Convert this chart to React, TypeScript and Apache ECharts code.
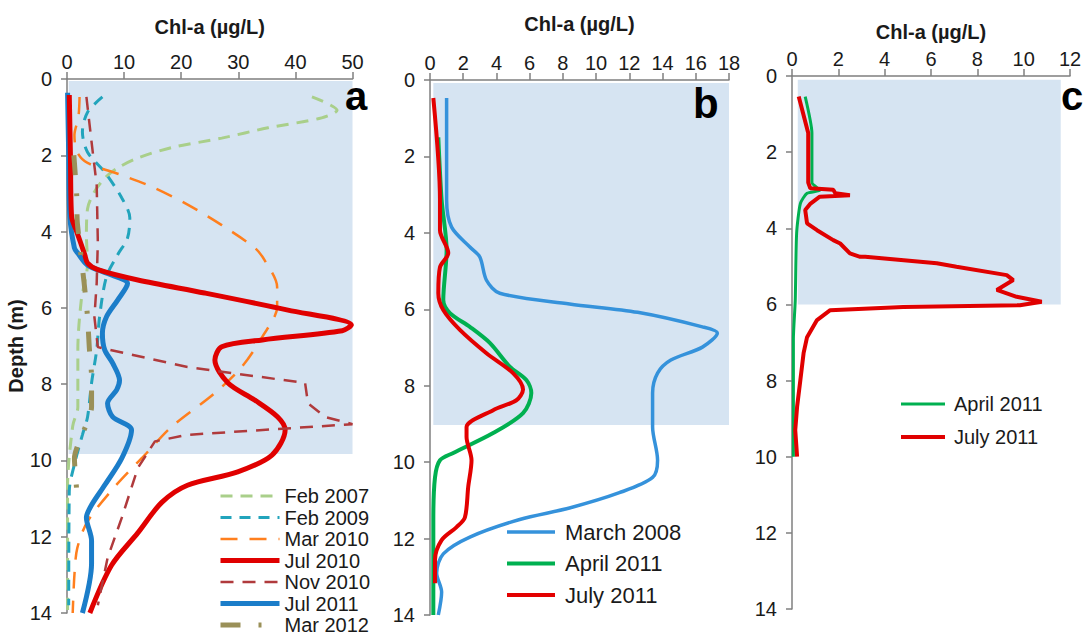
import React, { useEffect, useRef } from "react";
import * as echarts from "echarts";

// ---------- Panel a : [Chl-a (µg/L), depth (m)] ----------
const feb2007 = [[42.9,0.47],[47.3,0.82],[44.6,1.02],[35.2,1.28],[27.1,1.55],[18.3,1.8],[12.4,2.07],[8.9,2.33],[6.6,2.6],[4.8,2.96],[3.6,3.4],[3.4,4.1],[3.6,4.83],[2.5,5.8],[1.9,7.1],[1.9,8.6],[1.0,9.1],[0.1,10.7],[0.1,14]];
const feb2009 = [[6.2,0.47],[3.6,0.87],[2.7,1.39],[3.6,1.92],[6.6,2.44],[9.6,3.12],[11.0,3.64],[10.6,4.17],[8.9,4.6],[6.9,5.19],[5.7,6.24],[5.2,7.1],[4.3,7.97],[3.6,8.86],[2.7,9.33],[1.3,10.1],[0.4,10.8],[0.3,13.8]];
const mar2010 = [[2.2,0.47],[2.0,1.0],[1.3,1.47],[1.8,1.92],[3.6,2.2],[9.6,2.52],[15.4,2.86],[21.2,3.3],[27.1,3.83],[32.9,4.43],[34.6,4.75],[36.8,5.45],[36.8,5.98],[34.2,6.76],[30.6,7.55],[25.9,8.23],[18.3,9.12],[13.6,9.86],[8.3,10.7],[3.6,11.6],[1.8,12.3],[1.3,13],[1.0,14]];
const jul2010 = [[0.4,0.42],[0.6,2.0],[0.8,3.6],[1.7,4.0],[3.1,4.6],[3.6,4.83],[5.4,5.0],[12.4,5.27],[24.1,5.61],[38.7,6.06],[49.8,6.45],[48.2,6.6],[34.2,6.84],[27.1,7.02],[25.9,7.37],[28.2,7.97],[32.9,8.42],[36.9,8.86],[38.2,9.2],[35.9,9.86],[29.9,10.3],[21.1,10.65],[16.6,11.1],[12.4,11.9],[7.8,12.75],[4.0,14]];
const nov2010 = [[3.4,0.47],[4.3,1.65],[5.2,2.78],[5.4,4.27],[5.2,5.35],[4.8,6.24],[5.4,7.03],[21.1,7.55],[41.7,7.97],[42.2,8.5],[45.2,8.86],[50,9.05],[21.1,9.33],[15.4,9.5],[12.4,10.2],[9.6,11.5],[7.1,12.56],[5.4,13.8]];
const jul2011a = [[0.1,0.36],[0.3,2.0],[0.5,3.6],[1.3,4.43],[1.9,4.57],[3.6,4.88],[7.1,5.1],[10.6,5.36],[8.9,5.79],[6.9,6.24],[6.2,6.67],[6.6,7.1],[8.0,7.45],[9.2,7.9],[8.7,8.15],[7.1,8.5],[8.0,8.86],[11.3,9.2],[9.6,9.94],[6.6,10.65],[4.3,11.17],[3.4,11.5],[4.3,12.1],[4.3,12.7],[2.7,14]];
const mar2012 = [[1.2,2.0],[1.3,2.2],[1.7,3.05],[1.8,3.75],[3.0,5.35],[3.6,6.24],[3.9,7.03],[4.3,7.8],[4.3,8.6],[1.3,9.94],[1.7,10.78]];

// ---------- Panel b ----------
const mar2008b = [[1.0,0.47],[1.0,3.14],[1.3,3.85],[2.4,4.37],[3.0,4.63],[3.4,5.24],[4.2,5.58],[8.4,5.86],[12.5,6.08],[16.4,6.46],[17.3,6.62],[16.4,6.99],[14.5,7.33],[13.7,7.67],[13.4,8.19],[13.4,9.08],[13.7,9.95],[13.4,10.4],[11.4,10.8],[8.4,11.2],[5.4,11.5],[2.4,11.96],[0.8,12.4],[0.4,12.9],[0.7,13.4],[0.5,14]];
const apr2011b = [[0.5,1.5],[0.7,3.14],[1.0,4.45],[0.8,5.76],[1.2,6.1],[2.4,6.46],[3.6,6.88],[4.8,7.5],[5.8,7.85],[6.1,8.19],[5.6,8.72],[3.8,9.24],[1.4,9.76],[0.6,9.95],[0.3,10.4],[0.2,11.5],[0.2,14]];
const jul2011b = [[0.2,0.47],[0.6,3.14],[0.6,3.93],[1.1,4.53],[0.6,4.9],[0.5,5.58],[0.8,6.02],[1.8,6.54],[3.4,7.15],[5.0,7.67],[5.6,8.1],[5.2,8.38],[3.8,8.64],[2.2,9.08],[2.2,9.34],[2.5,9.95],[2.3,10.65],[2.1,11.45],[1.6,11.7],[0.7,12.04],[0.3,12.56],[0.3,13.17]];

// ---------- Panel c ----------
const apr2011c = [[0.57,0.54],[0.86,1.5],[0.86,2.8],[1.2,3.0],[0.65,3.08],[0.36,3.35],[0.2,4.13],[0.14,5.9],[0.06,6.9],[0.06,10]];
const jul2011c = [[0.29,0.54],[0.7,1.5],[0.7,2.8],[0.79,2.95],[1.78,2.99],[1.87,3.08],[2.5,3.13],[1.2,3.17],[0.8,3.35],[0.57,3.52],[0.65,3.87],[1.08,4.05],[1.78,4.31],[2.08,4.4],[2.5,4.66],[2.94,4.75],[3.16,4.75],[6.25,4.92],[7.1,5.01],[9.27,5.23],[9.55,5.36],[8.84,5.62],[9.7,5.8],[10.78,5.93],[9.84,6.02],[4.8,6.07],[1.65,6.15],[1.08,6.41],[0.65,6.86],[0.5,7.28],[0.36,7.99],[0.22,8.69],[0.14,9.3],[0.22,10]];

// shaded zones [xMin, depthMin, xMax, depthMax]
const shadeA = [0.3, 0.05, 50, 9.83];
const shadeB = [0.2, 0.08, 18, 9.03];
const shadeC = [0.25, 0.1, 11.6, 6.0];

const legendA = ["Feb 2007", "Feb 2009", "Mar 2010", "Jul 2010", "Nov 2010", "Jul 2011", "Mar 2012"];
const legendB = ["March 2008", "April 2011", "July 2011"];
const legendC = ["c:April 2011", "c:July 2011"];

const FONT = "Arial, 'Liberation Sans', sans-serif";
const AXIS_COLOR = "#7f7f7f";
const TEXT_COLOR = "#1a1a1a";
const SHADE = "#D6E4F2";

function xAxis(gridIndex: number, max: number, interval: number, nameGap: number) {
  return {
    type: "value", gridIndex, position: "top", min: 0, max, interval,
    name: "Chl-a (µg/L)", nameLocation: "middle", nameGap,
    nameTextStyle: { fontFamily: FONT, fontWeight: "bold", fontSize: 20, color: TEXT_COLOR },
    axisLine: { show: true, onZero: false, lineStyle: { color: AXIS_COLOR, width: 1.5 } },
    axisTick: { show: true, length: 7, lineStyle: { color: AXIS_COLOR, width: 1.5 } },
    axisLabel: { fontFamily: FONT, fontSize: 20, color: TEXT_COLOR, margin: 7 },
    splitLine: { show: false },
  };
}

function yAxis(gridIndex: number, name?: string) {
  return {
    type: "value", gridIndex, inverse: true, min: 0, max: 14, interval: 2,
    name: name || "", nameLocation: "middle", nameGap: 20,
    nameTextStyle: { fontFamily: FONT, fontWeight: "bold", fontSize: 20, color: TEXT_COLOR },
    axisLine: { show: true, onZero: false, lineStyle: { color: AXIS_COLOR, width: 1.5 } },
    axisTick: { show: true, length: 6, lineStyle: { color: AXIS_COLOR, width: 1.5 } },
    axisLabel: { fontFamily: FONT, fontSize: 20, color: TEXT_COLOR, margin: 15 },
    splitLine: { show: false },
  };
}

function line(name: string, data: number[][], g: number, color: string, width: number, type: any, smooth: number | boolean, z = 3) {
  return {
    type: "line", name, data, xAxisIndex: g, yAxisIndex: g, symbol: "none", smooth,
    lineStyle: { color, width, type }, itemStyle: { color }, z, silent: true,
  };
}

function shade(g: number, s: number[]) {
  return {
    type: "line", name: "shade" + g, data: [], xAxisIndex: g, yAxisIndex: g, symbol: "none", z: 1, silent: true,
    markArea: { silent: true, itemStyle: { color: SHADE }, data: [[{ coord: [s[0], s[1]] }, { coord: [s[2], s[3]] }]] },
  };
}

function legend(data: string[], left: number, top: number, itemWidth: number, gap: number, fontSize: number, pad: number) {
  return {
    data, left, top, orient: "vertical", itemWidth, itemHeight: 14, itemGap: gap, selectedMode: false, padding: 0,
    formatter: (n: string) => n.replace(/^c:/, ""),
    itemStyle: { opacity: 0 },
    lineStyle: { width: "inherit", type: "inherit" },
    textStyle: { fontFamily: FONT, fontSize, lineHeight: fontSize, color: TEXT_COLOR, padding: [0, 0, 0, pad] },
  };
}

const option: any = {
  animation: false,
  backgroundColor: "#ffffff",
  grid: [
    { left: 67, top: 79, width: 285.5, height: 534 },
    { left: 430, top: 80, width: 299, height: 535 },
    { left: 792, top: 76, width: 278, height: 533 },
  ],
  xAxis: [xAxis(0, 50, 10, 42), xAxis(1, 18, 2, 46), xAxis(2, 12, 2, 34)],
  yAxis: [yAxis(0, "Depth (m)"), yAxis(1), yAxis(2)],
  legend: [
    legend(legendA, 218, 486, 59, 1.5, 20, 0),
    legend(legendB, 505, 521, 48, 9.5, 22, 5),
    legend(legendC, 899, 394, 44, 13, 20, 4),
  ],
  graphic: [
    { type: "text", z: 100, style: { x: 345, y: 96, text: "a", font: `bold 40px ${FONT}`, fill: "#000", verticalAlign: "middle" } },
    { type: "text", z: 100, style: { x: 693, y: 103, text: "b", font: `bold 42px ${FONT}`, fill: "#000", verticalAlign: "middle" } },
    { type: "text", z: 100, style: { x: 1061, y: 96, text: "c", font: `bold 40px ${FONT}`, fill: "#000", verticalAlign: "middle" } },
  ],
  series: [
    shade(0, shadeA),
    shade(1, shadeB),
    shade(2, shadeC),
    line("Feb 2007", feb2007, 0, "#A9CF8A", 3, [12, 8], 0.3),
    line("Feb 2009", feb2009, 0, "#22A4BC", 3, [11, 8], 0.3),
    line("Mar 2010", mar2010, 0, "#FF7F1E", 2.5, [17, 12], 0.3),
    line("Jul 2011", jul2011a, 0, "#1B7DC9", 5, "solid", 0.3),
    line("Jul 2010", jul2010, 0, "#E00000", 5, "solid", 0.3),
    line("Nov 2010", nov2010, 0, "#B03A3C", 2.5, [13, 9], false),
    line("Mar 2012", mar2012, 0, "#9A9058", 5, [20, 18, 3, 18], 0.2),
    line("March 2008", mar2008b, 1, "#3592DB", 3.5, "solid", 0.3),
    line("April 2011", apr2011b, 1, "#00B050", 4, "solid", 0.3),
    line("July 2011", jul2011b, 1, "#E30000", 4, "solid", 0.3),
    line("c:April 2011", apr2011c, 2, "#00B050", 3, "solid", 0.2),
    line("c:July 2011", jul2011c, 2, "#E00000", 4, "solid", false),
  ],
};

export default function App() {
  const ref = useRef<HTMLDivElement>(null);
  useEffect(() => {
    const chart = echarts.init(ref.current as HTMLDivElement, null, { renderer: "svg" });
    chart.setOption(option);
    return () => chart.dispose();
  }, []);
  return (
    <div
      ref={ref}
      style={{ position: "fixed", left: 0, top: 0, width: 1086, height: 636, background: "#fff" }}
    />
  );
}
